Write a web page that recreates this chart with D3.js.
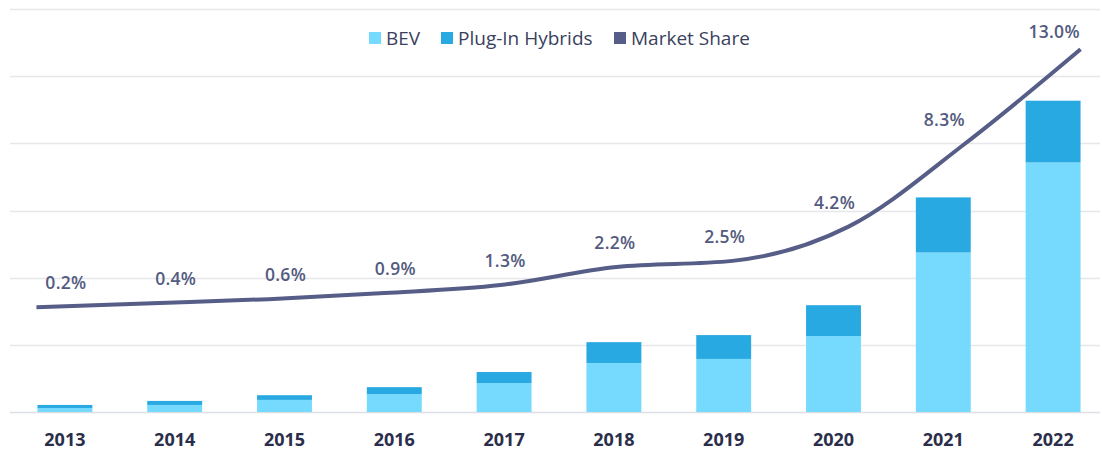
<!DOCTYPE html>
<html>
<head>
<meta charset="utf-8">
<script src="https://cdn.jsdelivr.net/npm/d3@7"></script>
<style>
  body { margin: 0; background: #fff; }
  svg { display: block; font-family: "Open Sans", "Noto Sans", sans-serif; }
</style>
</head>
<body>
<script>
const years = ['2013', '2014', '2015', '2016', '2017', '2018', '2019', '2020', '2021', '2022'];
// sales in millions
const bev = [0.12, 0.21, 0.36, 0.53, 0.86, 1.46, 1.58, 2.26, 4.75, 7.43];
const phev = [0.09, 0.12, 0.14, 0.21, 0.33, 0.62, 0.71, 0.92, 1.64, 1.84];
// market share, percent
const share = [0.2, 0.4, 0.6, 0.9, 1.3, 2.2, 2.5, 4.2, 8.3, 13.0];
const yTicks = [0, 2, 4, 6, 8, 10, 12];

const width = 1102;
const height = 450;

const colors = { bev: '#76dafe', phev: '#29a9e1', line: '#565d86' };

const svg = d3.select('body')
  .append('svg')
  .attr('width', width)
  .attr('height', height);

const x = d3.scaleBand()
  .domain(years)
  .range([10, 1108])
  .paddingInner(0.5)
  .paddingOuter(0.25);

const y = d3.scaleLinear()
  .domain([0, 12])
  .range([412, 9]);

// secondary scale for the share line
const yShare = d3.scaleLinear()
  .domain([-5, 15])
  .range([412, 9]);

// the line runs from the first bar's left edge to the last bar's right edge
const xLine = d3.scalePoint()
  .domain(years)
  .range([x(years[0]) - 1, x(years[years.length - 1]) + x.bandwidth()]);

// gridlines
svg.append('g')
  .selectAll('line')
  .data(yTicks)
  .join('line')
  .attr('x1', 10)
  .attr('x2', 1100)
  .attr('y1', d => Math.round(y(d)) + 0.5)
  .attr('y2', d => Math.round(y(d)) + 0.5)
  .attr('stroke', d => d === 0 ? '#dcdfe3' : '#e5e7ea')
  .attr('stroke-width', 1.5);

// stacked bars
const rows = years.map((yr, i) => ({ year: yr, bev: bev[i], phev: phev[i] }));
const stack = d3.stack().keys(['bev', 'phev'])(rows);

svg.append('g')
  .selectAll('g')
  .data(stack)
  .join('g')
  .attr('fill', d => colors[d.key])
  .selectAll('rect')
  .data(d => d)
  .join('rect')
  .attr('x', d => x(d.data.year))
  .attr('width', x.bandwidth())
  .attr('y', d => y(d[1]))
  .attr('height', d => y(d[0]) - y(d[1]));

// market share line
const line = d3.line()
  .x((d, i) => xLine(years[i]))
  .y(d => yShare(d))
  .curve(d3.curveMonotoneX);

svg.append('path')
  .datum(share)
  .attr('fill', 'none')
  .attr('stroke', colors.line)
  .attr('stroke-width', 4)
  .attr('d', line);

// share labels
svg.append('g')
  .selectAll('text')
  .data(share)
  .join('text')
  .attr('x', (d, i) => x(years[i]) + x.bandwidth() / 2 + 1)
  .attr('y', d => yShare(d) - (d > 10 ? 11 : 18))
  .attr('text-anchor', 'middle')
  .attr('fill', '#545b80')
  .attr('font-size', 17.5)
  .attr('font-weight', 600)
  .attr('letter-spacing', 0.3)
  .text(d => d.toFixed(1) + '%');

// x axis labels
svg.append('g')
  .selectAll('text')
  .data(years)
  .join('text')
  .attr('x', d => x(d) + x.bandwidth() / 2)
  .attr('y', 446)
  .attr('text-anchor', 'middle')
  .attr('fill', '#2a2e4a')
  .attr('font-size', 18)
  .attr('font-weight', 700)
  .text(d => d);

// legend
const legendItems = [
  { label: 'BEV', color: colors.bev, x: 369 },
  { label: 'Plug-In Hybrids', color: colors.phev, x: 441 },
  { label: 'Market Share', color: colors.line, x: 614 }
];

const legend = svg.append('g')
  .selectAll('g')
  .data(legendItems)
  .join('g')
  .attr('transform', d => `translate(${d.x},32)`);

legend.append('rect')
  .attr('width', 12)
  .attr('height', 12)
  .attr('fill', d => d.color);

legend.append('text')
  .attr('x', 17)
  .attr('y', 12.5)
  .attr('fill', '#3a3f5e')
  .attr('font-size', 19)
  .text(d => d.label);
</script>
</body>
</html>
